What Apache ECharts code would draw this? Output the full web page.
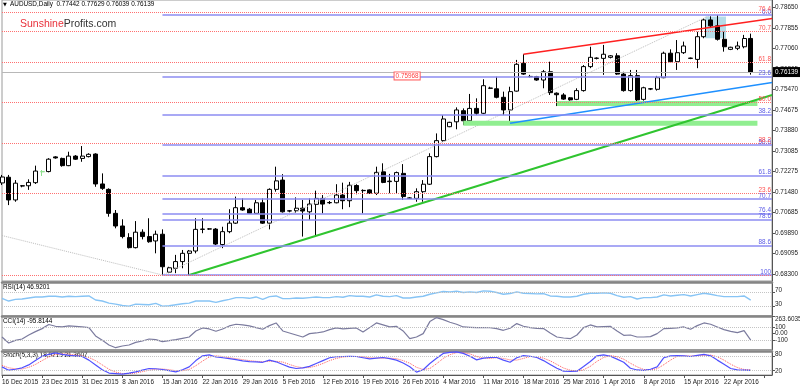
<!DOCTYPE html>
<html><head><meta charset="utf-8">
<script src="https://cdn.jsdelivr.net/npm/echarts@6/dist/echarts.min.js"></script>
<style>html,body{margin:0;padding:0;background:#fff}#c{width:800px;height:387px}</style>
</head><body><div id="c"></div>
<script>
// ---- price data (daily bars, index 0 = 16 Dec 2015) ----
const opens  = [0.7184,0.7206,0.7118,0.7173,0.7173,0.7185,0.7228,0.7228,0.7285,0.7279,
0.7251,0.7288,0.7279,0.7286,0.7296,0.7180,0.7159,0.7066,0.7017,0.6972,
0.6933,0.6993,0.6976,0.6959,0.6985,0.6838,0.6853,0.6879,0.6911,0.6920,
0.7005,0.7005,0.7005,0.6945,0.6995,0.7028,0.7088,0.7082,0.7066,0.7107,
0.7028,0.7159,0.7195,0.7075,0.7076,0.7086,0.7072,0.7101,0.7124,0.7107,
0.7107,0.7137,0.7115,0.7174,0.7154,0.7157,0.7144,0.7227,0.7189,0.7190,
0.7221,0.7126,0.7124,0.7150,0.7179,0.7286,0.7348,0.7402,0.7421,0.7464,
0.7425,0.7473,0.7454,0.7552,0.7549,0.7516,0.7467,0.7540,0.7648,0.7597,
0.7596,0.7583,0.7615,0.7532,0.7525,0.7514,0.7508,0.7542,0.7635,0.7667,
0.7667,0.7671,0.7677,0.7606,0.7542,0.7600,0.7508,0.7549,0.7547,0.7592,
0.7687,0.7654,0.7689,0.7668,0.7663,0.7751,0.7816,0.7793,0.7741,0.7702,
0.7706,0.7712,0.77442];
const highs  = [0.7215,0.7215,0.7195,0.7176,0.7198,0.7251,0.7234,0.7280,0.7288,0.7282,
0.7305,0.7292,0.7327,0.7299,0.7299,0.7221,0.7163,0.7079,0.7043,0.6989,
0.7036,0.7004,0.7047,0.6999,0.7004,0.6859,0.6905,0.6924,0.6924,0.7047,
0.7047,0.7009,0.7009,0.7014,0.7082,0.7131,0.7124,0.7087,0.7118,0.7124,
0.7163,0.7247,0.7218,0.7079,0.7128,0.7118,0.7124,0.7154,0.7137,0.7114,
0.7179,0.7185,0.7188,0.7179,0.7159,0.7159,0.7247,0.7260,0.7219,0.7228,
0.7257,0.7129,0.7163,0.7195,0.7299,0.7376,0.7447,0.7421,0.7477,0.7473,
0.7529,0.7512,0.7586,0.7557,0.7596,0.7538,0.7557,0.7661,0.7683,0.7603,
0.7599,0.7622,0.7654,0.7535,0.7532,0.7517,0.7551,0.7641,0.7712,0.7671,
0.7719,0.7680,0.7687,0.7615,0.7622,0.7622,0.7557,0.7552,0.7599,0.7693,
0.7702,0.7738,0.7732,0.7670,0.7770,0.7822,0.7830,0.7835,0.7770,0.7712,
0.7732,0.7758,0.77629];
const lows   = [0.7176,0.7098,0.7111,0.7167,0.7157,0.7180,0.7211,0.7225,0.7278,0.7247,
0.7249,0.7273,0.7266,0.7283,0.7169,0.7157,0.7053,0.7008,0.6969,0.6930,
0.6930,0.6965,0.6952,0.6911,0.6827,0.6834,0.6834,0.6853,0.6827,0.6911,
0.6989,0.7002,0.6943,0.6931,0.6989,0.7025,0.7076,0.7064,0.7064,0.7025,
0.7004,0.7150,0.7069,0.7070,0.7069,0.6976,0.7040,0.6982,0.7066,0.7102,
0.7105,0.7082,0.7090,0.7140,0.7066,0.7141,0.7137,0.7183,0.7144,0.7144,
0.7118,0.7122,0.7111,0.7111,0.7176,0.7283,0.7344,0.7400,0.7392,0.7409,
0.7421,0.7447,0.7451,0.7548,0.7512,0.7447,0.7415,0.7538,0.7603,0.7593,
0.7580,0.7551,0.7525,0.7482,0.7506,0.7503,0.7505,0.7538,0.7629,0.7663,
0.7603,0.7667,0.7603,0.7538,0.7538,0.7499,0.7503,0.7544,0.7542,0.7590,
0.7650,0.7622,0.7684,0.7664,0.7629,0.7745,0.7788,0.7736,0.7693,0.7699,
0.7699,0.7706,0.76039];
const closes = [0.7207,0.7118,0.7183,0.7172,0.7186,0.7230,0.7227,0.7276,0.7281,0.7251,
0.7288,0.7276,0.7288,0.7295,0.7180,0.7163,0.7066,0.7017,0.6976,0.6933,
0.6993,0.6976,0.6956,0.6985,0.6859,0.6855,0.6879,0.6911,0.6920,0.7004,
0.7004,0.7006,0.6947,0.6995,0.7028,0.7088,0.7079,0.7066,0.7107,0.7028,
0.7159,0.7192,0.7072,0.7076,0.7086,0.7075,0.7102,0.7124,0.7102,0.7108,
0.7137,0.7115,0.7175,0.7154,0.7155,0.7144,0.7225,0.7186,0.7191,0.7224,
0.7131,0.7124,0.7150,0.7179,0.7286,0.7348,0.7432,0.7419,0.7467,0.7425,
0.7473,0.7454,0.7561,0.7551,0.7516,0.7467,0.7538,0.7644,0.7606,0.7596,
0.7583,0.7615,0.7534,0.7526,0.7509,0.7506,0.7542,0.7635,0.7671,0.7668,
0.7683,0.7677,0.7606,0.7542,0.7600,0.7506,0.7553,0.7548,0.7592,0.7687,
0.7654,0.7689,0.7715,0.7667,0.7751,0.7816,0.7793,0.7741,0.7712,0.7710,
0.7715,0.7744,0.76139];

// ---- indicators ----
const rsi = [52,44,49,50,53,56,56,58,58,56, 58,57,58,59,47,44,38,35,31,29,
35,34,33,37,29,30,33,36,38,44, 44,44,40,45,49,54,54,52,56,49,
57,59,51,51,53,52,54,56,54,54, 57,55,60,58,58,56,62,58,57,60,
53,53,56,58,64,68,72,71,73,69, 71,69,74,73,69,64,66,71,67,66,
65,66,59,58,56,56,58,64,67,67, 68,67,60,55,57,50,54,54,56,62,
59,61,63,59,63,67,64,60,57,57, 57,59,46.92];
const cci = [-50,-140,-100,-80,-20,30,75,136,110,100, 115,110,100,90,-35,-100,-170,-210,-185,-170,
-130,-110,-80,-90,-120,-105,-90,-70,-50,40, 85,70,35,70,115,140,130,115,90,65,
120,160,40,10,-20,-50,0,10,25,60, 85,70,80,85,25,90,160,130,100,110,
40,-75,-50,0,180,240,210,170,140,100, 95,90,92,88,75,50,80,150,110,90,
80,75,10,-50,-65,-75,-20,90,130,100, 105,110,40,-25,-20,-50,-50,-45,0,75,
80,85,100,65,120,160,140,100,60,35, 15,45,-95.81];
const stochK = [34,20,24,30,42,60,78,86,92,86, 82,80,77,62,42,22,8,6,4,8,
13,20,27,26,23,18,13,22,34,60, 80,84,75,72,68,64,59,56,55,53,
62,55,44,33,27,30,36,48,60,72, 76,77,78,77,72,67,70,73,68,62,
50,34,12,22,48,70,90,94,96,90, 78,63,70,73,73,62,53,72,81,78,
73,60,44,28,16,15,16,35,56,80, 84,78,66,53,28,21,19,24,34,72,
80,81,80,77,82,86,80,62,45,27, 21,20,18.92];
const stochD = [40,30,26,25,32,44,60,75,85,88, 87,83,80,73,60,42,24,12,6,6,
8,14,20,24,25,22,18,18,23,39, 58,75,80,77,72,68,64,60,57,55,
57,57,54,44,35,30,31,38,48,60, 69,75,77,77,76,72,70,70,70,68,
60,49,32,23,27,47,69,85,93,93, 88,77,70,69,72,69,63,62,69,77,
77,70,59,44,29,20,16,22,36,57, 73,81,76,66,49,34,23,21,26,43,
62,78,80,79,80,82,83,76,62,45, 31,23,21.36];

// ---- axis tick labels ----
const xTickLabels = ['16 Dec 2015','23 Dec 2015','31 Dec 2015','8 Jan 2016','15 Jan 2016','22 Jan 2016',
'29 Jan 2016','5 Feb 2016','12 Feb 2016','19 Feb 2016','26 Feb 2016','4 Mar 2016','11 Mar 2016',
'18 Mar 2016','25 Mar 2016','1 Apr 2016','8 Apr 2016','15 Apr 2016','22 Apr 2016'];
const priceTicks = [0.68300,0.69095,0.69890,0.70685,0.71480,0.72275,0.73085,0.73880,0.74675,
0.75470,0.76265,0.77060,0.77855,0.78650];
const rsiTicks = [100,70,30,0];
const rsiTickLabels = ['100','70','30','0'];
const cciTicks = [263.6035,100,0,-100,-237.0162];
const cciTickLabels = ['263.6035','100','0.00','-100','-237.0162'];
const stochTicks = [100,80,20,0];
const stochTickLabels = ['100','80','20','0'];

// ---- drawing objects (bar index, price) ----
const blueFib = {x0:24, high:0.7835, low:0.6827,
  levels:[0,23.6,38.2,50,61.8,70.7,76.4,78.6,88.6,100],
  labels:['0.0','23.6','38.2','50.0','61.8','70.7','76.4','78.6','88.6','100']};
const redFib = {high:0.8163, low:0.6827,
  levels:[0,23.6,38.2,50,61.8,70.7,76.4],
  labels:['','23.6','38.2','50.0','61.8','70.7','76.4']};
const greenTrend = [[28,0.6827],[115.2,0.7525]];
const blueTrend  = [[76,0.74152],[115.2,0.75738]];
const redTrend   = [[78,0.7683],[115.2,0.7822]];
const upperBand  = [[83,0.7492],[113,0.7492]];
const lowerBand  = [[69,0.74152],[113,0.74152]];
const diagA = [[0,0.6980],[24,0.6827]];
const diagB = [[24,0.6827],[106,0.7835]];
const highlightBox = [[105.2,0.7829],[108.3,0.7745]];
const bidPrice = 0.76139;
const priceNote = {x:60.6, y:0.7599, text:'0.75968'};

const X_MAX = 115.18;
const F = 'Liberation Sans';
const FS = 6.4;

const candleData = opens.map((o,i)=>{
  const v=[i,o,closes[i],lows[i],highs[i]];
  if(i===6) return {value:v,itemStyle:{color:'#90e090',color0:'#90e090',borderColor:'#90e090',borderColor0:'#90e090'}};
  return v;
});
const toXY = arr => arr.map((v,i)=>[i,v]);

const fibLines = [];
blueFib.levels.forEach((L,k)=>{
  const p = blueFib.high - L/100*(blueFib.high-blueFib.low);
  fibLines.push([{coord:[blueFib.x0,p],lineStyle:{color:'#8c8cf2',width:1.6,type:'solid'},
    label:{show:true,position:'insideEndTop',formatter:blueFib.labels[k],color:'#5a5ae6',fontSize:FS,fontFamily:F,distance:[1,0]}},
    {coord:[X_MAX,p]}]);
});
redFib.levels.forEach((L,k)=>{
  const p = redFib.low + L/100*(redFib.high-redFib.low);
  fibLines.push([{coord:[0,p],lineStyle:{color:'#ff7070',width:1,type:'dotted'},
    label:{show:redFib.labels[k]!=='',position:'insideEndTop',formatter:redFib.labels[k],color:'#ff5050',fontSize:FS,fontFamily:F,distance:[1,0]}},
    {coord:[X_MAX,p]}]);
});
fibLines.push([{coord:[0,bidPrice],lineStyle:{color:'#b8b8b8',width:1,type:'solid'},
  label:{show:true,position:'end',formatter:bidPrice.toFixed(5),color:'#fff',backgroundColor:'#000',padding:[2,3,2,2],fontSize:FS,fontFamily:F,distance:1}},
  {coord:[X_MAX,bidPrice]}]);

function xAx(grid, extra){
  return Object.assign({type:'value',gridIndex:grid,min:0,max:X_MAX,
    axisLine:{show:false,onZero:false},axisTick:{show:false},axisLabel:{show:false},splitLine:{show:false}},extra||{});
}
// pads: vertical nudges of tick label text (top/bottom padding), keeping labels inside their panel
function yAx(grid,min,max,ticks,labels,pads){
  const rich={};
  ticks.forEach((t,k)=>{rich['p'+k]={fontSize:FS,fontFamily:F,color:'#222',padding:pads?pads[k]:[0,0,0,0]};});
  return {type:'value',gridIndex:grid,position:'right',min:min,max:max,
    axisLine:{show:true,onZero:false,lineStyle:{color:'#555',width:1}},
    axisTick:{show:true,length:3,customValues:ticks,lineStyle:{color:'#555'}},
    axisLabel:{show:true,customValues:ticks,fontSize:FS,color:'#222',fontFamily:F,margin:3,rich:rich,
      formatter:v=>{const k=ticks.findIndex(t=>Math.abs(t-v)<1e-7);return k>=0?'{p'+k+'|'+labels[k]+'}':'';}},
    splitLine:{show:false}};
}
const topLine = {show:true,onZero:false,lineStyle:{color:'#858585',width:2.5}};
const levelLine = vals => ({symbol:['none','none'],silent:true,animation:false,label:{show:false},
  lineStyle:{color:'#c4c4c4',type:'dotted',width:1},data:vals.map(v=>({yAxis:v}))});
const seg = (data,color,width,type,extra) => Object.assign({type:'line',xAxisIndex:0,yAxisIndex:0,data:data,
  symbol:'none',silent:true,animation:false,clip:true,lineStyle:{color:color,width:width,type:type||'solid'}},extra||{});

const gridBase = {left:2,width:770,show:true,borderColor:'#9a9a9a',borderWidth:1,containLabel:false,outerBoundsMode:'none'};
const option = {
  animation:false,
  backgroundColor:'#ffffff',
  grid:[
    Object.assign({},gridBase,{top:0,height:281}),
    Object.assign({},gridBase,{top:282,height:34}),
    Object.assign({},gridBase,{top:316,height:33.5}),
    Object.assign({},gridBase,{top:351,height:24})
  ],
  xAxis:[
    xAx(0),
    xAx(1,{position:'top',axisLine:topLine}),
    xAx(2,{position:'top',axisLine:topLine}),
    xAx(3,{position:'top',axisLine:topLine}),
    xAx(3,{position:'bottom',interval:6,
      axisLine:{show:true,onZero:false,lineStyle:{color:'#555'}},
      axisTick:{show:true,length:3,lineStyle:{color:'#555'}},
      axisLabel:{show:true,align:'left',margin:4,fontSize:FS,color:'#222',fontFamily:F,showMaxLabel:false,
        formatter:v=>{const k=Math.round(v/6);return Math.abs(v/6-k)<1e-6&&xTickLabels[k]?xTickLabels[k]:'';}}})
  ],
  yAxis:[
    yAx(0,0.68037,0.78933,priceTicks,priceTicks.map(v=>v.toFixed(5))),
    yAx(1,0,100,rsiTicks,rsiTickLabels,[[9,0,0,0],[0,0,3,0],[0,0,3.6,0],[0,0,16,0]]),
    yAx(2,-237.0162,263.6035,cciTicks,cciTickLabels,[[7,0,0,0],[0,0,0,0],[0,0,0,0],[0,0,0,0],[0,0,11,0]]),
    yAx(3,0,100,stochTicks,stochTickLabels,[[6,0,0,0],[0,0,2.5,0],[1.5,0,0,0],[0,0,7,0]])
  ],
  series:[
    {type:'candlestick',xAxisIndex:0,yAxisIndex:0,data:candleData,encode:{x:0,y:[1,2,3,4]},
      barWidth:4.5,clip:true,silent:true,
      itemStyle:{color:'#ffffff',color0:'#000000',borderColor:'#000000',borderColor0:'#000000',borderWidth:1},
      markArea:{silent:true,itemStyle:{color:'#add8e6',opacity:0.9},data:[[{coord:highlightBox[0]},{coord:highlightBox[1]}]]},
      markLine:{symbol:['none','none'],silent:true,animation:false,data:fibLines},
      markPoint:{silent:true,animation:false,data:[{coord:[priceNote.x,priceNote.y],symbol:'rect',symbolSize:[0,0],
        label:{show:true,position:'inside',formatter:priceNote.text,color:'#ff4040',borderColor:'#ff6060',borderWidth:1,
          padding:[1,1,0,1],fontSize:FS,fontFamily:F,backgroundColor:'#fff'}}]}
    },
    seg(diagA,'#bdbdbd',1,'dotted'),
    seg(diagB,'#bdbdbd',1,'dotted'),
    seg(upperBand,'#90ee90',5),
    seg(lowerBand,'#90ee90',5),
    seg(greenTrend,'#2fc42f',2),
    seg(blueTrend,'#1e90ff',1.5),
    seg(redTrend,'#ff2020',1.5),
    {type:'line',xAxisIndex:1,yAxisIndex:1,data:toXY(rsi),symbol:'none',silent:true,lineStyle:{color:'#87c4f5',width:1.4},
      markLine:levelLine([70,30])},
    {type:'line',xAxisIndex:2,yAxisIndex:2,data:toXY(cci),symbol:'none',silent:true,lineStyle:{color:'#7b7b9e',width:1.2},
      markLine:levelLine([100,-100])},
    {type:'line',xAxisIndex:3,yAxisIndex:3,data:toXY(stochD),symbol:'none',silent:true,lineStyle:{color:'#ff5a5a',width:1,type:'dotted'},
      markLine:levelLine([80,20])},
    {type:'line',xAxisIndex:3,yAxisIndex:3,data:toXY(stochK),symbol:'none',silent:true,lineStyle:{color:'#5050ff',width:1.2}}
  ],
  graphic:[
    {type:'text',left:3,top:2,style:{text:'\u25BC',fontSize:5,fill:'#000',fontFamily:'DejaVu Sans'}},
    {type:'text',left:10,top:1.5,style:{text:'AUDUSD,Daily  0.77442 0.77629 0.76039 0.76139',fontSize:FS,fill:'#000',fontFamily:F}},
    {type:'text',left:20,top:19,style:{text:'{a|Sunshine}{b|Profits.com}',rich:{a:{fill:'#e8303a',fontSize:10.5,fontFamily:F},b:{fill:'#333',fontSize:10.5,fontFamily:F}}}},
    {type:'text',left:3,top:284,style:{text:'RSI(14) 46.9201',fontSize:FS,fill:'#000',fontFamily:F}},
    {type:'text',left:3,top:318,style:{text:'CCI(14) -95.8144',fontSize:FS,fill:'#000',fontFamily:F}},
    {type:'text',left:3,top:352.5,style:{text:'Stoch(5,3,3) 18.9213 21.3607',fontSize:FS,fill:'#000',fontFamily:F}}
  ]
};
const chart = echarts.init(document.getElementById('c'));
chart.setOption(option);
</script>
</body></html>
